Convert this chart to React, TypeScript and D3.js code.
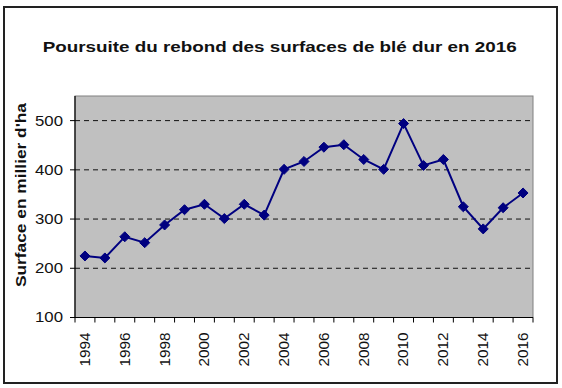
import React from "react";
import * as d3 from "d3";

const years = ["1994","1995","1996","1997","1998","1999","2000","2001","2002","2003","2004","2005","2006","2007","2008","2009","2010","2011","2012","2013","2014","2015","2016"];
const surfaces = [225,221,264,252,288,319,330,301,330,308,401,417,446,451,421,401,494,409,421,325,280,323,353];
const yTicks = [100,200,300,400,500];
const title = "Poursuite du rebond des surfaces de blé dur en 2016";
const yLabel = "Surface en millier d'ha";

export default function App() {
  const W = 562, H = 388;
  const left = 75, right = 533, top = 96, bottom = 317.5;
  const x = d3.scaleBand<string>().domain(years).range([left, right]);
  const y = d3.scaleLinear().domain([100, 550]).range([bottom, top]);
  const line = d3.line<number>().x((_, i) => x(years[i])! + x.bandwidth() / 2).y(d => y(d));
  const diamond = d3.symbol().type(d3.symbolDiamond2).size(64)();
  const font = "'Liberation Sans', Arial, sans-serif";
  return (
    <svg width={W} height={H} style={{ position: "absolute", left: 0, top: 0 }} fontFamily={font}>
      <rect x={0} y={0} width={W} height={H} fill="#fff" />
      <rect x={4} y={7} width={553} height={376} fill="#fff" stroke="#222" strokeWidth={2} />
      <text x={42.7} y={52} fontWeight="bold" fontSize={15.5} fill="#111" textLength={474} lengthAdjust="spacingAndGlyphs">{title}</text>
      <rect x={left} y={top} width={right - left} height={bottom - top} fill="#c0c0c0" stroke="#808080" strokeWidth={1} />
      {yTicks.filter(t => t > 100).map(t => (
        <line key={t} x1={left} x2={right} y1={y(t)} y2={y(t)} stroke="#111" strokeWidth={1} strokeDasharray="5,4" />
      ))}
      <line x1={left} x2={left} y1={top} y2={bottom} stroke="#000" strokeWidth={1.2} />
      <line x1={left - 4} x2={right} y1={bottom} y2={bottom} stroke="#000" strokeWidth={1.2} />
      {yTicks.map(t => (
        <g key={t}>
          <line x1={left - 5} x2={left} y1={y(t)} y2={y(t)} stroke="#000" />
          <text x={35} y={y(t)} dy="0.35em" fontSize={14} textLength={28} lengthAdjust="spacingAndGlyphs" fill="#111">{t}</text>
        </g>
      ))}
      {years.map(yr => (
        <line key={"t" + yr} x1={x(yr)!} x2={x(yr)!} y1={bottom} y2={bottom + 5} stroke="#000" />
      ))}
      <line x1={right} x2={right} y1={bottom} y2={bottom + 5} stroke="#000" />
      {years.filter((_, i) => i % 2 === 0).map(yr => {
        const cx = x(yr)! + x.bandwidth() / 2;
        return (
          <text key={"l" + yr} transform={`translate(${cx},${bottom + 15}) rotate(-90)`} textAnchor="end" dy="0.35em" fontSize={14} textLength={34} lengthAdjust="spacingAndGlyphs" fill="#111">{yr}</text>
        );
      })}
      <text transform={`translate(21,195) rotate(-90)`} textAnchor="middle" dy="0.35em" fontWeight="bold" fontSize={14} fill="#111" textLength={184} lengthAdjust="spacingAndGlyphs">{yLabel}</text>
      <path d={line(surfaces)!} fill="none" stroke="#000080" strokeWidth={2} />
      {surfaces.map((v, i) => (
        <path key={i} d={diamond} transform={`translate(${x(years[i])! + x.bandwidth() / 2},${y(v)})`} fill="#000080" stroke="#000080" />
      ))}
    </svg>
  );
}
